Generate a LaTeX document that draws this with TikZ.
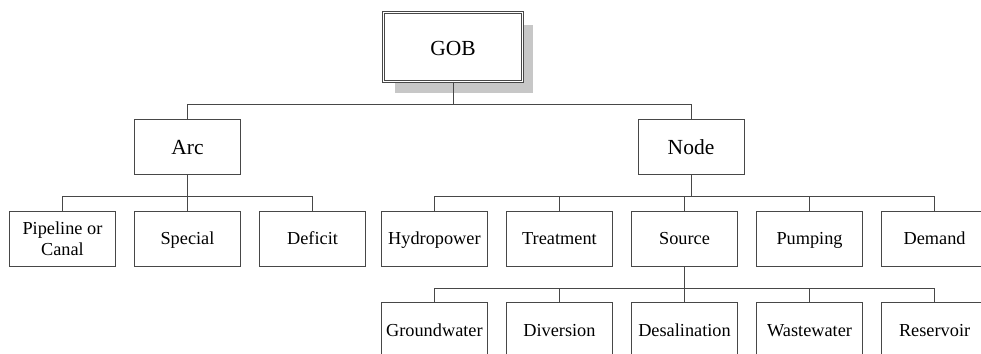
\documentclass[tikz,border=0pt]{standalone}
\usepackage{fontspec}
\setmainfont{Liberation Serif}
\usepackage{xcolor}
\usepackage{tikz}
\usetikzlibrary{positioning,shadows,calc}

\begin{document}
\begin{tikzpicture}[every node/.style={align=center}, node distance=36pt and 18.25pt]
\tikzset{
  box/.style={draw=black!72, line width=0.8pt, fill=white, minimum width=106pt, minimum height=55pt, inner sep=1pt},
  upper/.style={box, font=\fontsize{21.5}{24}\selectfont, text height=18pt, text depth=1.5pt},
  lower/.style={box, font=\fontsize{18.3}{20.5}\selectfont, text height=14pt, text depth=1.5pt},
  root/.style={upper, double=white, double distance=1.6pt, minimum width=138.8pt, minimum height=68.8pt,
    drop shadow={shadow xshift=11pt, shadow yshift=-12pt, fill=black!22, opacity=1}},
  link/.style={draw=black!72, line width=0.8pt}
}
\useasboundingbox (0,0) rectangle (981pt,-353pt);
\node[root] (gob) at (453pt,-47pt) {GOB};
\node[upper, below=37pt of gob, xshift=-265.5pt] (arc) {Arc};
\node[upper, below=37pt of gob, xshift=238pt] (nodes) {Node};
% arc types
\node[lower, below=36pt of arc] (special) {Special};
\node[lower, left=of special, text height=, text depth=] (pipe) {Pipeline or\\Canal};
\node[lower, right=of special] (deficit) {Deficit};
% node types
\node[lower, below=36pt of nodes, xshift=-6.5pt] (source) {Source};
\node[lower, left=of source] (treat) {Treatment};
\node[lower, left=of treat] (hydro) {Hydropower};
\node[lower, right=of source] (pump) {Pumping};
\node[lower, right=of pump] (demand) {Demand};
% source types
\node[lower, below=36pt of source] (desal) {Desalination};
\node[lower, left=of desal] (divert) {Diversion};
\node[lower, left=of divert] (ground) {Groundwater};
\node[lower, right=of desal] (waste) {Wastewater};
\node[lower, right=of waste] (reservoir) {Reservoir};
% tree links
\foreach \c in {arc,nodes}
  \draw[link] (gob.south) -- ++(0,-23pt) -| (\c.north);
\foreach \c in {pipe,special,deficit}
  \draw[link] (arc.south) -- ++(0,-22pt) -| (\c.north);
\foreach \c in {hydro,treat,source,pump,demand}
  \draw[link] (nodes.south) -- ++(0,-22pt) -| (\c.north);
\foreach \c in {ground,divert,desal,waste,reservoir}
  \draw[link] (source.south) -- ++(0,-22pt) -| (\c.north);
\end{tikzpicture}
\end{document}
